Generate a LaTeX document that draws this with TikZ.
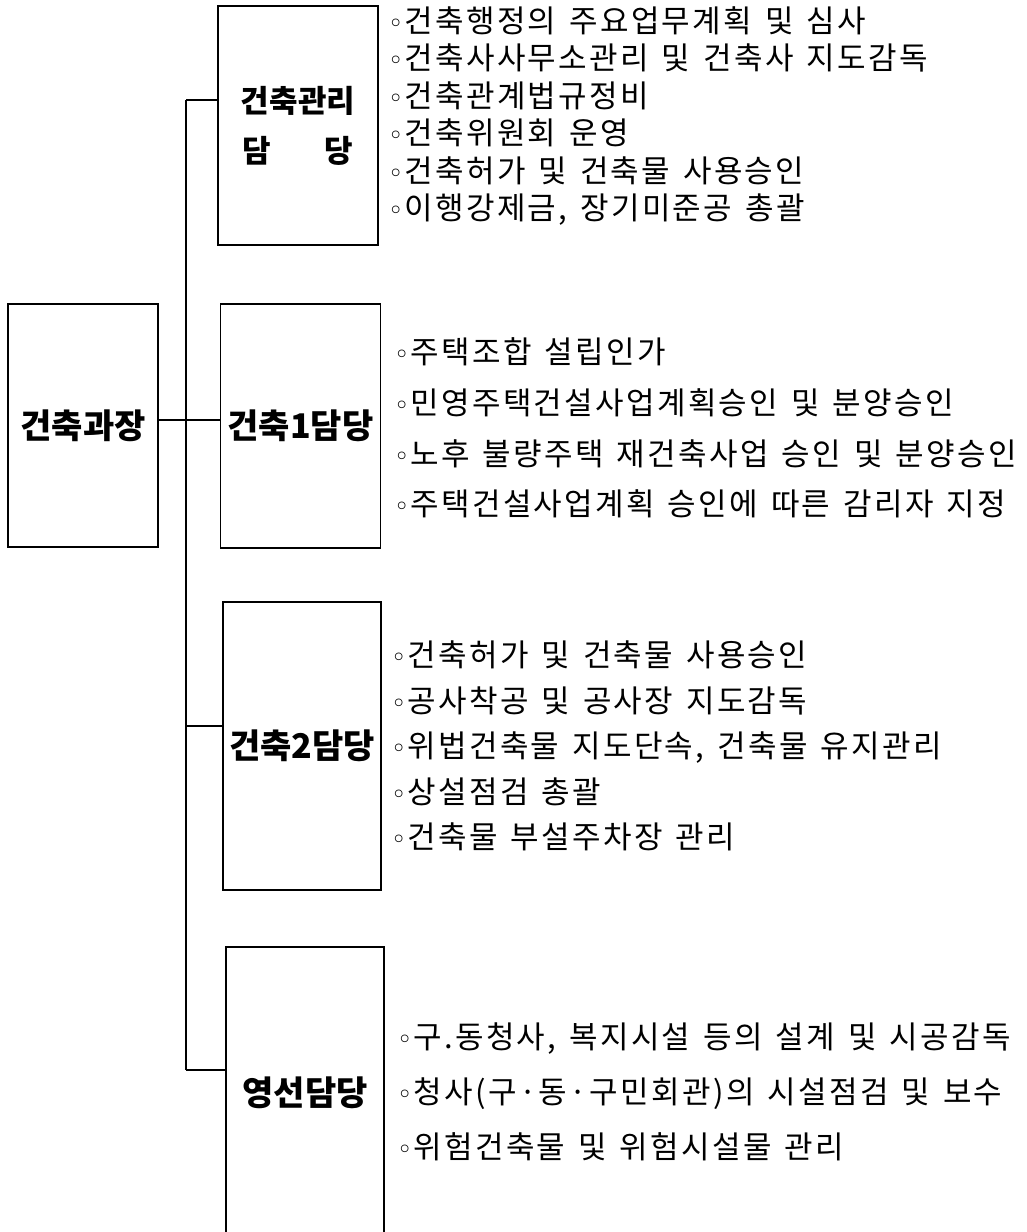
\documentclass[tikz,border=0pt]{standalone}
\usepackage{fontspec}
\newfontfamily\kr{Noto Sans CJK KR}
\newfontfamily\krw{Noto Sans CJK KR}[WordSpace=1.4,LetterSpace=7.5]
\newfontfamily\dv{DejaVu Sans}
\newcommand\bul{{\dv\fontsize{26}{26}\selectfont ◦}\hspace{1pt}}
\newcommand\mdt{\hspace{2.5pt}·\hspace{2.5pt}}
\begin{document}
\begin{tikzpicture}[x=1pt,y=-1pt,
  box/.style={draw, line width=1.6pt, inner sep=0pt, align=center,
    font=\kr\bfseries\fontsize{34}{40}\selectfont},
  items/.style={anchor=west, align=left, inner sep=0pt},
  conn/.style={line width=1.5pt}]
\useasboundingbox[fill=white] (0,0) rectangle (1027,1232);

% boxes
\node[box, minimum width=160pt, minimum height=239pt,
  font=\kr\bfseries\fontsize{31}{50}\selectfont] (b1) at (298,125.5)
  {건축관리\\\makebox[3.55em][s]{담\hfill 당}};
\node[box, minimum width=150pt, minimum height=243pt] (head) at (83,425.5) {건축과장};
\node[box, minimum width=160pt, minimum height=244pt] (b2) at (300.5,426) {건축1담당};
\node[box, minimum width=158pt, minimum height=288pt] (b3) at (302,746) {건축2담당};
\node[box, minimum width=158pt, minimum height=292pt] (b4) at (305,1093) {영선담당};

% connectors
\coordinate (j1) at (186,100);
\coordinate (j2) at (186,420);
\coordinate (j3) at (186,726);
\coordinate (j4) at (186,1070);
\draw[conn] (j1) -- (j4);
\draw[conn] (j1) -- (j1 -| b1.west);
\draw[conn] (head.east |- j2) -- (j2 -| b2.west);
\draw[conn] (j3) -- (j3 -| b3.west);
\draw[conn] (j4) -- (j4 -| b4.west);

% duty lists
\node[items, font=\krw\fontsize{31}{37.4}\selectfont] (t1) at (388,116) {\bul 건축행정의 주요업무계획 및 심사\\
\bul 건축사사무소관리 및 건축사 지도감독\\
\bul 건축관계법규정비\\
\bul 건축위원회 운영\\
\bul 건축허가 및 건축물 사용승인\\
\bul 이행강제금, 장기미준공 총괄};

\node[items, font=\krw\fontsize{31}{50.7}\selectfont] (t2) at (394,428) {\bul 주택조합 설립인가\\
\bul 민영주택건설사업계획승인 및 분양승인\\
\bul 노후 불량주택 재건축사업 승인 및 분양승인\\
\bul 주택건설사업계획 승인에 따른 감리자 지정};

\node[items, font=\krw\fontsize{31}{45.5}\selectfont] (t3) at (391,746) {\bul 건축허가 및 건축물 사용승인\\
\bul 공사착공 및 공사장 지도감독\\
\bul 위법건축물 지도단속, 건축물 유지관리\\
\bul 상설점검 총괄\\
\bul 건축물 부설주차장 관리};

\node[items, font=\krw\fontsize{31}{55}\selectfont] (t4) at (397,1092) {\bul 구.동청사, 복지시설 등의 설계 및 시공감독\\
\bul 청사(구\mdt 동\mdt 구민회관)의 시설점검 및 보수\\
\bul 위험건축물 및 위험시설물 관리};
\end{tikzpicture}
\end{document}
